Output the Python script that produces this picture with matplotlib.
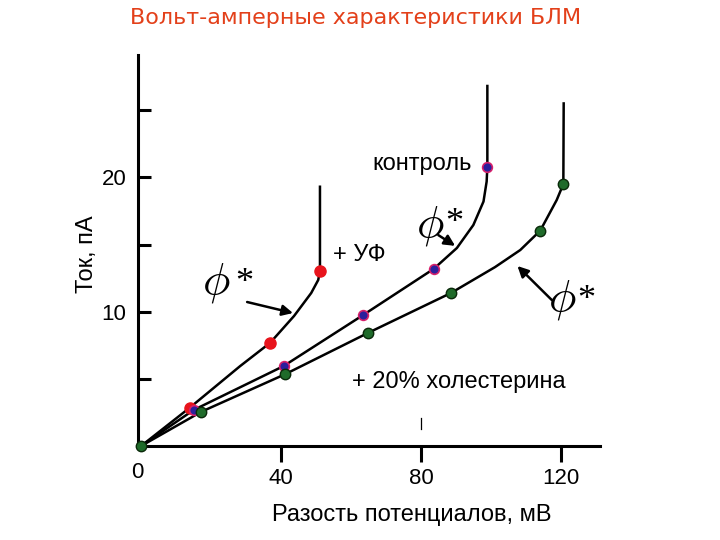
import matplotlib
matplotlib.use('Agg')
import matplotlib.pyplot as plt

plt.rcParams['font.family'] = ['Liberation Sans', 'DejaVu Sans']
plt.rcParams['mathtext.fontset'] = 'cm'

# curves: voltage (mV), current (pA)
uv_x = [0, 14.0, 28.3, 36.9, 43.7, 48.6, 50.6, 51.1, 51.1]
uv_y = [0, 2.87, 5.95, 7.69, 9.68, 11.39, 12.36, 13.03, 19.3]
uv_pts_x = [14.0, 36.9, 51.1]
uv_pts_y = [2.8, 7.7, 13.0]

ctrl_x = [0, 15.0, 40.7, 63.3, 83.6, 90.2, 94.9, 97.8, 98.7, 98.9, 98.9]
ctrl_y = [0, 2.68, 5.95, 9.73, 13.19, 14.74, 16.45, 18.2, 19.69, 20.79, 26.8]
ctrl_pts_x = [15.0, 40.7, 63.3, 83.6, 98.9]
ctrl_pts_y = [2.68, 5.95, 9.73, 13.19, 20.79]

chol_x = [0, 17.2, 41.1, 64.9, 88.5, 101.1, 108.3, 114.0, 118.7, 120.6, 120.7]
chol_y = [0, 2.55, 5.34, 8.43, 11.39, 13.32, 14.59, 16.03, 18.31, 19.5, 25.5]
chol_pts_x = [0, 17.2, 41.1, 64.9, 88.5, 114.0, 120.6]
chol_pts_y = [0, 2.55, 5.34, 8.43, 11.39, 16.03, 19.5]

x_ticks = [40, 80, 120]
y_ticks = [5, 10, 15, 20, 25]
y_tick_labels = ['', '10', '', '20', '']

# phi* marks: phi centre, asterisk baseline, arrow tail, arrow head
phi_pos = [(21.4, 12.13), (82.6, 16.38), (120.3, 10.87)]
star_pos = [(29.4, 11.46), (89.4, 15.93), (127.1, 10.2)]
arrows = [((30.3, 10.72), (43.4, 9.9)),
          ((84.9, 15.7), (89.7, 14.9)),
          ((117.3, 10.87), (107.5, 13.4))]


def main():
    fig = plt.figure(figsize=(7.2, 5.4), dpi=100)
    ax = fig.add_axes([0.191, 0.174, 0.642, 0.724])

    lw = 1.8
    ax.plot(uv_x, uv_y, color='black', lw=lw, zorder=2)
    ax.plot(ctrl_x, ctrl_y, color='black', lw=lw, zorder=2)
    ax.plot(chol_x, chol_y, color='black', lw=lw, zorder=2)

    ax.plot(uv_pts_x, uv_pts_y, 'o', ms=8, color='#e8141c', mec='#e8141c', zorder=3)
    ax.plot(ctrl_pts_x, ctrl_pts_y, 'o', ms=7, color='#2b1f9c', mec='#d6206a',
            mew=1.2, zorder=4)
    ax.plot(chol_pts_x, chol_pts_y, 'o', ms=7.5, color='#1f6b2a', mec='#0a2a0a',
            mew=1.0, zorder=4, clip_on=False)

    ax.set_xlim(-1, 131)
    ax.set_ylim(0, 29.1)

    for s in ['top', 'right']:
        ax.spines[s].set_visible(False)
    for s in ['left', 'bottom']:
        ax.spines[s].set_linewidth(2.2)

    ax.set_xticks(x_ticks)
    ax.set_xticklabels([str(v) for v in x_ticks])
    ax.set_yticks(y_ticks)
    ax.set_yticklabels(y_tick_labels)
    ax.tick_params(axis='x', direction='out', length=11.5, width=2.2,
                   labelsize=16, pad=4)
    ax.tick_params(axis='y', direction='in', length=9.5, width=2.2,
                   labelsize=16, pad=8)
    ax.text(-1, -1.95, '0', fontsize=16, ha='center', va='center')

    # small stray mark above the axis at 80
    ax.plot([80, 80], [1.27, 2.08], color='black', lw=0.9)

    ax.text(-15.5, 14.3, 'Ток, пА', rotation=90, fontsize=17,
            ha='center', va='center')
    fig.text(412 / 720, 1 - 515 / 540, 'Разость потенциалов, мВ',
             fontsize=17, ha='center', va='center')

    ax.text(66.2, 21.0, 'контроль', fontsize=17, ha='left', va='center')
    ax.text(54.8, 14.2, '+ УФ', fontsize=17, ha='left', va='center')
    ax.text(60.3, 4.8, '+ 20% холестерина', fontsize=17, ha='left', va='center')

    for (x, y) in phi_pos:
        ax.text(x, y, r'$\phi$', fontsize=33, ha='center', va='center')
    for (x, y) in star_pos:
        ax.text(x, y, '*', fontsize=26, ha='center', va='baseline',
                family=['Liberation Serif'])
    for tail, head in arrows:
        ax.annotate('', xy=head, xytext=tail,
                    arrowprops=dict(arrowstyle='-|>', color='black', lw=1.8,
                                    mutation_scale=16, shrinkA=0, shrinkB=0))

    fig.text(356 / 720, 1 - 18 / 540, 'Вольт-амперные характеристики БЛМ',
             fontsize=16, color='#e3401a', ha='center', va='center',
             family=['DejaVu Sans'])

    fig.savefig('out.png', dpi=100)


if __name__ == '__main__':
    main()
